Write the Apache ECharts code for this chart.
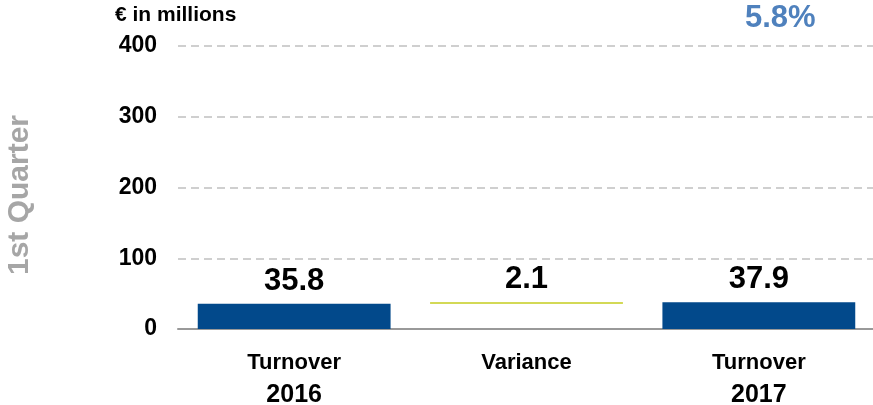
<!DOCTYPE html>
<html>
<head>
<meta charset="utf-8">
<script src="https://cdn.jsdelivr.net/npm/echarts@6/dist/echarts.min.js"></script>
<style>
  html, body { margin: 0; padding: 0; background: #fff; }
  #chart { width: 873px; height: 405px; }
</style>
</head>
<body>
<div id="chart"></div>
<script>
const categories = ['Turnover\n2016', 'Variance', 'Turnover\n2017']
const baseValues = [0, 35.8, 0]
const barValues = [35.8, 2.1, 37.9]
const barColors = ['#02498b', '#c4cc1e', '#02498b']
const yTicks = [0, 100, 200, 300, 400]
const growthText = '5.8%'

const chart = echarts.init(document.getElementById('chart'))

// category labels: words are a bit smaller than the years
const formatCategory = (value) => {
  return value.split('\n').map(line => /^\d+$/.test(line) ? '{d|' + line + '}' : '{w|' + line + '}').join('\n')
}

chart.setOption({
  animation: false,
  backgroundColor: '#fff',
  textStyle: { fontFamily: 'Liberation Sans, Arial, sans-serif' },
  graphic: [
    {
      type: 'text',
      left: 115,
      top: 5,
      style: { text: '€ in millions', fontSize: 21, fontWeight: 'bold', fill: '#000', fontFamily: 'Liberation Sans' }
    },
    {
      type: 'text',
      left: 745,
      top: 3,
      style: { text: growthText, fontSize: 31, fontWeight: 'bold', fill: '#4f81bd', fontFamily: 'Liberation Sans' }
    },
    {
      type: 'text',
      x: 20,
      y: 195,
      rotation: Math.PI / 2,
      style: {
        text: '1st Quarter',
        fontSize: 30,
        fontWeight: 'bold',
        fill: '#a6a6a6',
        fontFamily: 'Liberation Sans',
        align: 'center',
        verticalAlign: 'middle'
      }
    }
  ],
  grid: {
    left: 178,
    right: -2,
    top: 46,
    bottom: 76,
    outerBoundsMode: 'none'
  },
  xAxis: {
    type: 'category',
    data: categories,
    axisTick: { show: false },
    axisLine: { lineStyle: { color: '#999', width: 2 } },
    axisLabel: {
      color: '#000',
      margin: 17,
      formatter: formatCategory,
      rich: {
        w: { fontSize: 22, fontWeight: 'bold', lineHeight: 33, color: '#000', fontFamily: 'Liberation Sans' },
        d: { fontSize: 25, fontWeight: 'bold', lineHeight: 33, color: '#000', fontFamily: 'Liberation Sans' }
      }
    }
  },
  yAxis: {
    type: 'value',
    min: yTicks[0],
    max: yTicks[yTicks.length - 1],
    interval: 100,
    axisLine: { show: false },
    axisTick: { show: false },
    axisLabel: {
      color: '#000',
      fontSize: 23,
      fontWeight: 'bold',
      margin: 21,
      fontFamily: 'Liberation Sans'
    },
    splitLine: {
      lineStyle: { color: '#c0c0c0', type: [8, 5], width: 1.5 }
    }
  },
  series: [
    {
      type: 'bar',
      stack: 'wf',
      data: baseValues,
      barWidth: '83%',
      itemStyle: { color: 'transparent' },
      silent: true
    },
    {
      type: 'bar',
      stack: 'wf',
      barWidth: '83%',
      data: barValues.map((v, i) => ({ value: v, itemStyle: { color: barColors[i] } })),
      label: {
        show: true,
        position: 'top',
        distance: 7,
        color: '#000',
        fontSize: 31,
        fontWeight: 'bold',
        fontFamily: 'Liberation Sans'
      }
    }
  ]
})
</script>
</body>
</html>
